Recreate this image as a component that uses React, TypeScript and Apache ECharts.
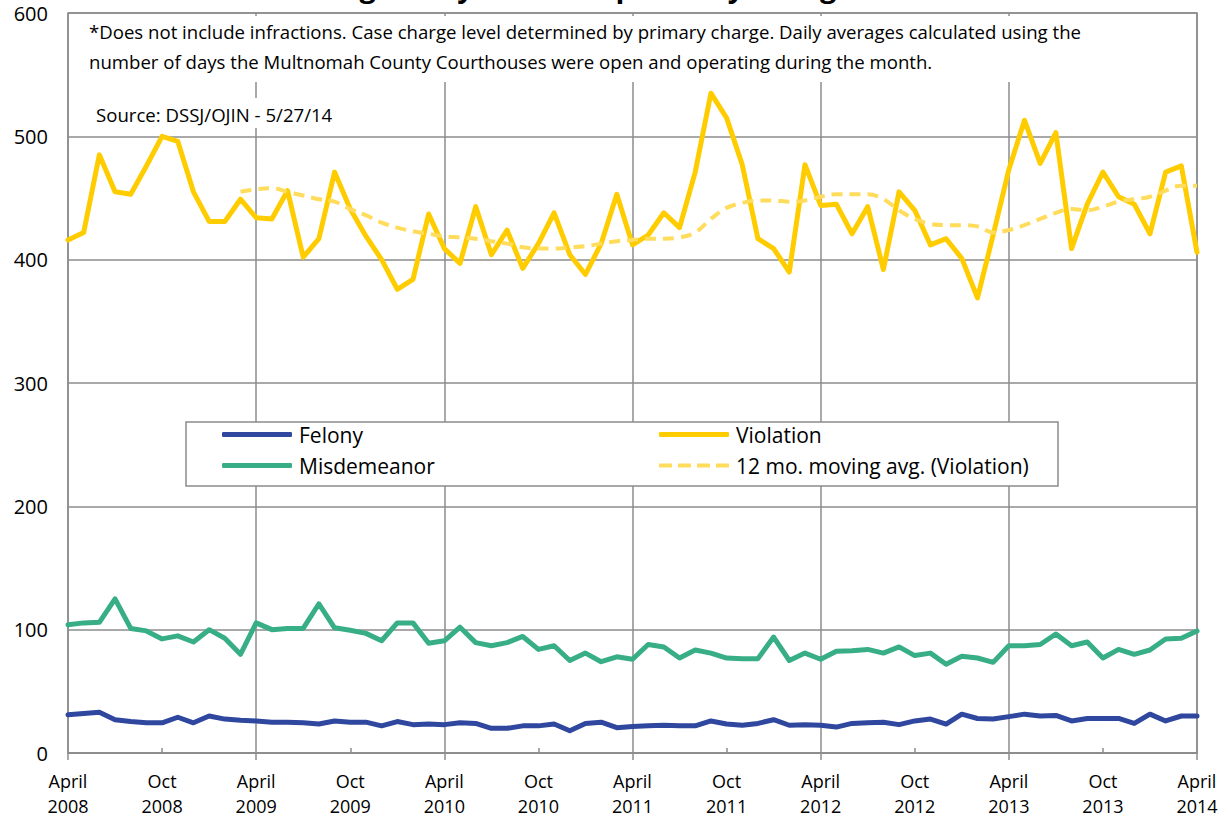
import React, { useEffect, useRef } from "react";
import * as echarts from "echarts";

const MONTHS = ["April", "May", "June", "July", "Aug", "Sept", "Oct", "Nov", "Dec", "Jan", "Feb", "March"];
const START_YEAR = 2008;
const N_MONTHS = 73;
const categories: string[] = [];
for (let i = 0; i < N_MONTHS; i++) {
  categories.push(`${MONTHS[i % 12]}\n${START_YEAR + Math.floor((i + 3) / 12)}`);
}

const yTicks = { min: 0, max: 600, interval: 100 };

const felony = [31,32,33,27,25.5,24.5,24.5,29,24.5,30,27.5,26.5,26,25,25,24.5,23.5,26,25,25,22,25.5,23,23.5,23,24.5,24,20,20,22,22,23.5,18,24,25,20.5,21.5,22,22.5,22,22,26,23.5,22.5,24,27,22.5,23,22.5,21,24,24.5,25,23,26,27.5,23.5,31.5,28,27.5,29.5,31.5,30,30.5,26,28,28,28,24,31.5,26,30,30];

const misdemeanor = [104,105.5,106,125,101,99,92.5,95,90,100,93,80,105.5,100,101,101,121,101.5,99.5,97,91,105.5,105.5,89,91,102,89.5,87,89.5,94.5,84,87,75,81,74,78,76,88,86,77,83.5,81,77,76.5,76.5,94,75,81,76,82.5,83,84,81,86,79,81,72,78.5,77,73.5,87,87,88,96.5,87,90,77,84,80,83.5,92.5,93,99];

const violation = [416,422,485,455,453,476,500,496,455,431,431,449,434,433,456,402,417,471,441,419,400,376,384,437,409,397,443,404,424,393,413,438,404,388,413,453,412,420,438,426,471,535,515,477,417,409,390,477,444,445,421,443,392,455,440,412,417,401,369,420,473,513,478,503,409,445,471,451,445,421,471,476,406];

// 12 mo. moving average, starts at March 2009 (12th month)
const movingAvg = [null,null,null,null,null,null,null,null,null,null,null,
  455,457,458,455,452,449,447,441,436,430,426,423,421,419,418,417,415,413,410,409,409,410,411,413,415,416,417,417,418,422,433,442,446,448,448,447,448,451,453,453,453,449,440,433,429,428,428,427,422,424,428,433,438,441,440,443,447,449,451,456,460,460];

const TITLE = "Average Daily Cases Disposed by Charge Level*";
const NOTE1 = "*Does not include infractions. Case charge level determined by primary charge. Daily averages calculated using the";
const NOTE2 = "number of days the Multnomah County Courthouses were open and operating during the month.";
const SOURCE = "Source: DSSJ/OJIN - 5/27/14";

const FONT = "'Open Sans', Lato, sans-serif";
const GRID_COLOR = "#8c8c8c";
const COLORS = {
  felony: "#2F479E",
  misd: "#38AE87",
  viol: "#FFCC00",
  ma: "#FFDC5C",
};
const DASH_ICON = "path://M0,0h13v4h-13z M19,0h13v4h-13z M38,0h13v4h-13z M57,0h13v4h-13z";

export default function App() {
  const ref = useRef<HTMLDivElement>(null);
  useEffect(() => {
    if (!ref.current) return;
    const chart = echarts.init(ref.current, null, { renderer: "svg" });
    const legendBase = {
      itemWidth: 70,
      itemHeight: 5,
      padding: 0,
      selectedMode: false,
      textStyle: { fontFamily: FONT, fontSize: 21, color: "#000", padding: [0, 0, 0, 2] },
    };
    chart.setOption({
      animation: false,
      backgroundColor: "#fff",
      textStyle: { fontFamily: FONT },
      grid: {
        left: 68,
        right: 31,
        top: 13,
        bottom: 65,
        show: true,
        borderColor: GRID_COLOR,
        borderWidth: 1.5,
        containLabel: false,
      },
      xAxis: [
        {
          type: "category",
          data: categories,
          boundaryGap: false,
          axisLine: { show: true, lineStyle: { color: GRID_COLOR, width: 1.5 } },
          axisTick: {
            show: true,
            length: 7,
            interval: (idx: number) => idx % 12 === 0,
            lineStyle: { color: GRID_COLOR, width: 1.5 },
          },
          axisLabel: {
            interval: (idx: number) => idx % 6 === 0,
            fontFamily: FONT,
            fontSize: 18,
            color: "#000",
            lineHeight: 25,
            margin: 15,
          },
          splitLine: {
            show: true,
            interval: (idx: number) => idx % 12 === 0,
            lineStyle: { color: GRID_COLOR, width: 1.5 },
          },
        },
        {
          type: "category",
          data: categories,
          boundaryGap: false,
          position: "bottom",
          axisLine: { show: false },
          axisLabel: { show: false },
          splitLine: { show: false },
          axisTick: {
            show: true,
            inside: true,
            length: 5,
            interval: (idx: number) => idx % 12 === 6,
            lineStyle: { color: GRID_COLOR, width: 1.5 },
          },
        },
      ],
      yAxis: {
        type: "value",
        min: yTicks.min,
        max: yTicks.max,
        interval: yTicks.interval,
        axisLine: { show: false },
        axisTick: { show: false },
        axisLabel: { fontFamily: FONT, fontSize: 20, color: "#000", margin: 20 },
        splitLine: { lineStyle: { color: GRID_COLOR, width: 1.5 } },
      },
      legend: [
        { ...legendBase, data: [{ name: "Felony", icon: "roundRect" }], left: 222, top: 424 },
        { ...legendBase, data: [{ name: "Violation", icon: "roundRect" }], left: 659, top: 424 },
        { ...legendBase, data: [{ name: "Misdemeanor", icon: "roundRect" }], left: 222, top: 455 },
        { ...legendBase, data: [{ name: "12 mo. moving avg. (Violation)", icon: DASH_ICON }], left: 659, top: 455 },
      ],
      series: [
        {
          name: "Felony",
          type: "line",
          data: felony,
          symbol: "none",
          lineStyle: { color: COLORS.felony, width: 5, cap: "round", join: "round" },
          itemStyle: { color: COLORS.felony },
        },
        {
          name: "Misdemeanor",
          type: "line",
          data: misdemeanor,
          symbol: "none",
          lineStyle: { color: COLORS.misd, width: 5, cap: "round", join: "round" },
          itemStyle: { color: COLORS.misd },
        },
        {
          name: "Violation",
          type: "line",
          data: violation,
          symbol: "none",
          lineStyle: { color: COLORS.viol, width: 5, cap: "round", join: "round" },
          itemStyle: { color: COLORS.viol },
        },
        {
          name: "12 mo. moving avg. (Violation)",
          type: "line",
          data: movingAvg,
          symbol: "none",
          smooth: 0.4,
          connectNulls: false,
          lineStyle: { color: COLORS.ma, width: 4, type: [11, 7] },
          itemStyle: { color: COLORS.ma },
        },
      ],
      graphic: [
        {
          type: "rect",
          z: 1,
          shape: { x: 70, y: 16, width: 1125, height: 66 },
          style: { fill: "#fff" },
        },
        {
          type: "rect",
          z: 1,
          shape: { x: 86, y: 98, width: 262, height: 30 },
          style: { fill: "#fff" },
        },
        {
          type: "rect",
          z: 1,
          shape: { x: 186, y: 422, width: 872, height: 64 },
          style: { fill: "#fff", stroke: GRID_COLOR, lineWidth: 1.5 },
        },
        {
          type: "text",
          z: 3,
          x: 614,
          y: -15,
          style: { text: TITLE, font: `bold 29px ${FONT}`, fill: "#000", align: "center", verticalAlign: "middle" },
        },
        {
          type: "text",
          z: 3,
          x: 89,
          y: 31,
          style: { text: NOTE1, font: `18.6px ${FONT}`, fill: "#000", verticalAlign: "middle" },
        },
        {
          type: "text",
          z: 3,
          x: 89,
          y: 61,
          style: { text: NOTE2, font: `18.6px ${FONT}`, fill: "#000", verticalAlign: "middle" },
        },
        {
          type: "text",
          z: 3,
          x: 96,
          y: 114,
          style: { text: SOURCE, font: `18.6px ${FONT}`, fill: "#000", verticalAlign: "middle" },
        },
      ],
    });
    return () => chart.dispose();
  }, []);
  return (
    <div
      ref={ref}
      style={{ position: "absolute", left: 0, top: 0, width: 1228, height: 818 }}
    />
  );
}
